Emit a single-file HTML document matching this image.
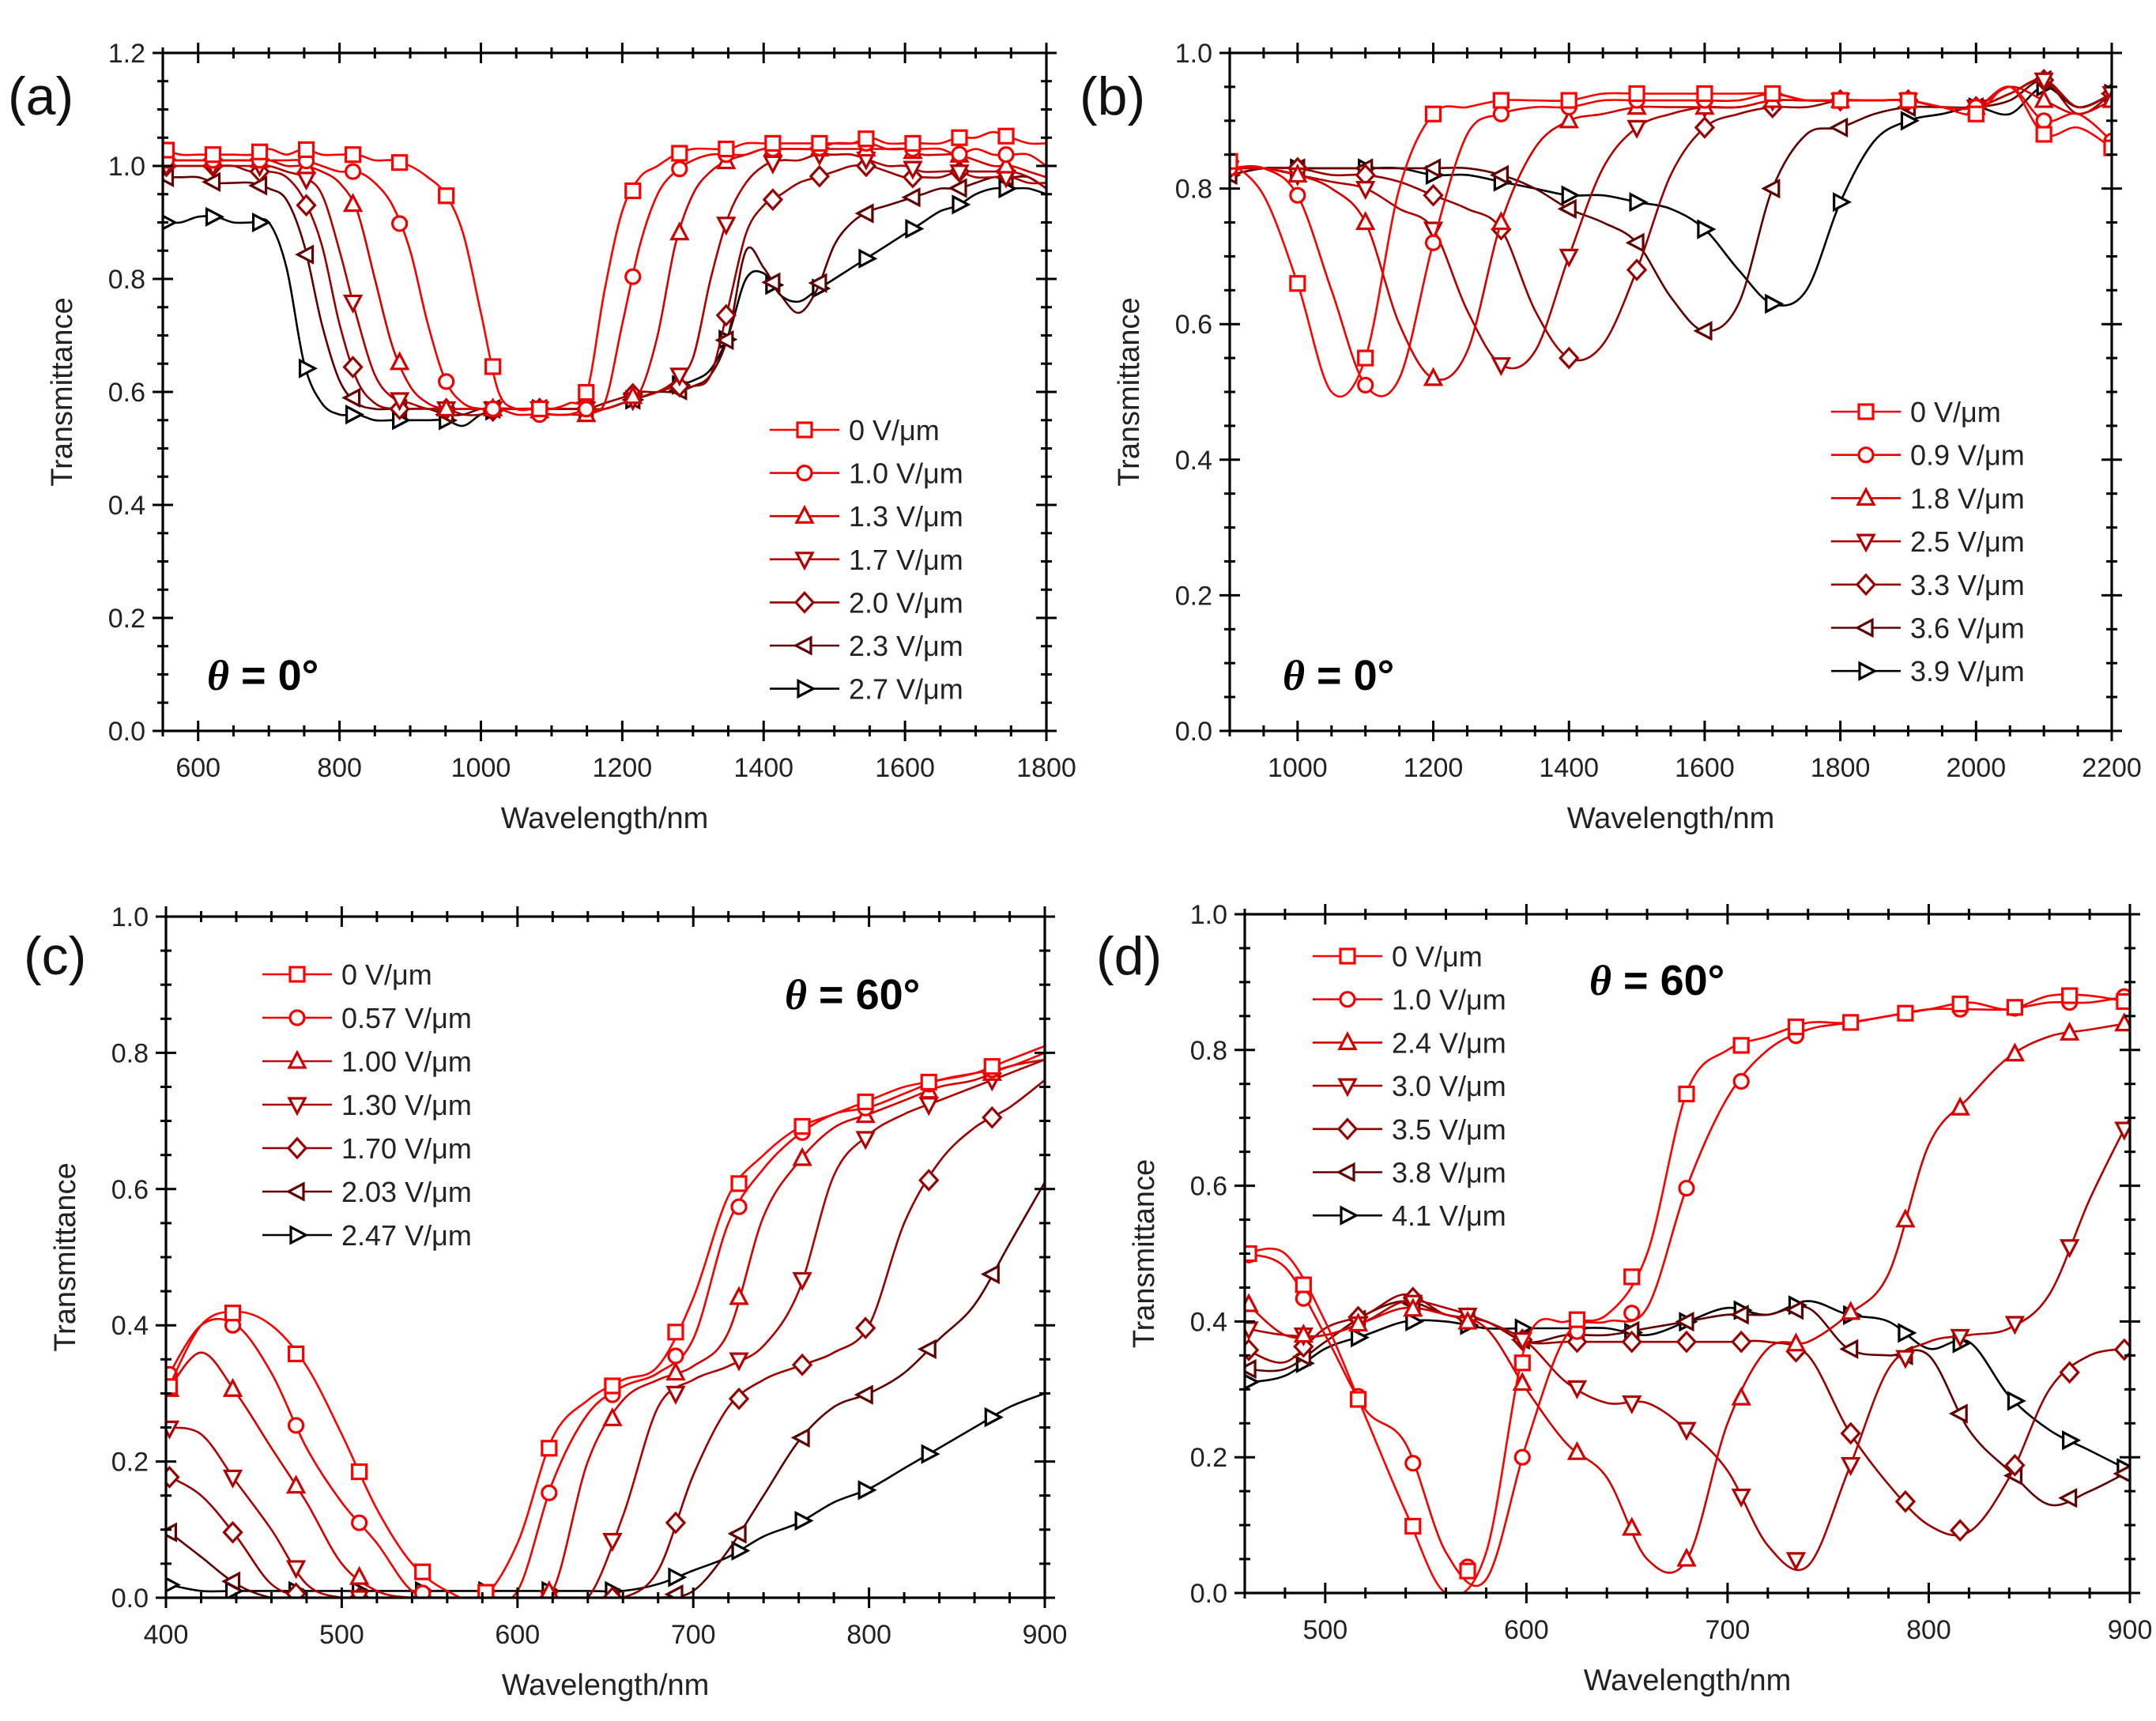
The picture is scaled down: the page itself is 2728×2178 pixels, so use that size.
<!DOCTYPE html>
<html><head><meta charset="utf-8">
<style>
html,body{margin:0;padding:0;background:#fff;}
svg{display:block;}
text{font-family:"Liberation Sans",Arial,sans-serif;}
</style></head>
<body>
<svg id="fig" width="2728" height="2178" viewBox="0 0 2728 2178" xmlns="http://www.w3.org/2000/svg"></svg>
<script>
// ---------- Panel (a) data ----------
const aWavelengths = [550,575,600,625,650,675,700,725,750,775,800,825,850,875,900,925,950,975,1000,1025,1050,1075,1100,1125,1150,1175,1200,1225,1250,1275,1300,1325,1350,1375,1400,1425,1450,1475,1500,1525,1550,1575,1600,1625,1650,1675,1700,1725,1750,1775,1800];
const aLabels = ["0 V/\u03bcm","1.0 V/\u03bcm","1.3 V/\u03bcm","1.7 V/\u03bcm","2.0 V/\u03bcm","2.3 V/\u03bcm","2.7 V/\u03bcm"];
const a0 = [1.03,1.02,1.02,1.02,1.02,1.02,1.03,1.02,1.03,1.02, 1.02,1.02,1.01,1.01,1.0,0.98,0.95,0.88,0.74,0.6, 0.57,0.57,0.57,0.58,0.6,0.78,0.92,0.98,1.0,1.02, 1.03,1.03,1.03,1.04,1.04,1.04,1.04,1.04,1.04,1.04, 1.05,1.04,1.04,1.04,1.04,1.05,1.05,1.06,1.05,1.04, 1.04];
const a1 = [1.01,1.01,1.01,1.01,1.01,1.01,1.01,1.01,1.01,1.0, 0.99,0.99,0.97,0.93,0.85,0.72,0.62,0.58,0.57,0.57, 0.56,0.56,0.56,0.56,0.57,0.58,0.72,0.86,0.95,0.99, 1.01,1.02,1.02,1.02,1.03,1.03,1.03,1.03,1.04,1.04, 1.04,1.03,1.03,1.03,1.03,1.02,1.03,1.02,1.02,1.02, 1.0];
const a2 = [1.01,1.01,1.01,1.01,1.01,1.01,1.01,1.0,1.0,0.99, 0.97,0.92,0.8,0.68,0.61,0.58,0.57,0.57,0.57,0.57, 0.57,0.57,0.56,0.56,0.56,0.57,0.58,0.6,0.7,0.86, 0.95,0.99,1.01,1.02,1.03,1.03,1.03,1.03,1.03,1.03, 1.03,1.03,1.03,1.02,1.02,1.02,1.01,1.0,1.0,0.99, 0.98];
const a3 = [1.0,1.0,1.0,1.0,1.0,1.0,1.0,0.99,0.98,0.95, 0.85,0.73,0.63,0.59,0.58,0.57,0.57,0.57,0.57,0.57, 0.57,0.57,0.57,0.57,0.57,0.57,0.58,0.59,0.6,0.62, 0.66,0.8,0.91,0.97,1.0,1.01,1.01,1.02,1.02,1.02, 1.01,1.0,1.0,0.99,0.99,0.99,0.98,0.98,0.98,0.97, 0.97];
const a4 = [1.0,1.0,1.0,1.0,1.0,0.99,0.99,0.98,0.94,0.86, 0.72,0.62,0.58,0.57,0.57,0.57,0.57,0.56,0.56,0.57, 0.57,0.57,0.57,0.57,0.57,0.58,0.59,0.6,0.6,0.61, 0.61,0.63,0.75,0.88,0.93,0.95,0.97,0.98,0.99,1.0, 1.0,0.99,0.98,0.98,0.98,0.99,0.99,0.99,0.99,0.98, 0.96];
const a5 = [0.98,0.98,0.98,0.97,0.97,0.97,0.96,0.94,0.86,0.72, 0.62,0.58,0.57,0.57,0.57,0.57,0.56,0.56,0.57,0.57, 0.57,0.57,0.57,0.57,0.57,0.57,0.58,0.59,0.6,0.6, 0.61,0.63,0.7,0.85,0.82,0.77,0.74,0.78,0.86,0.9, 0.92,0.93,0.94,0.95,0.96,0.96,0.97,0.98,0.98,0.98, 0.96];
const a6 = [0.9,0.9,0.91,0.91,0.9,0.9,0.9,0.82,0.65,0.58, 0.56,0.56,0.55,0.55,0.55,0.55,0.55,0.54,0.56,0.57, 0.57,0.57,0.57,0.57,0.57,0.57,0.58,0.59,0.6,0.61, 0.62,0.64,0.7,0.8,0.81,0.77,0.76,0.78,0.8,0.82, 0.84,0.86,0.88,0.9,0.92,0.93,0.95,0.96,0.96,0.96, 0.95];
const aXTicks = [600,800,1000,1200,1400,1600,1800];
const aYTicks = [0.0,0.2,0.4,0.6,0.8,1.0,1.2];

// ---------- Panel (b) data ----------
const bWavelengths = [900,950,1000,1050,1100,1150,1200,1250,1300,1350,1400,1450,1500,1550,1600,1650,1700,1750,1800,1850,1900,1950,2000,2050,2100,2150,2200];
const bLabels = ["0 V/\u03bcm","0.9 V/\u03bcm","1.8 V/\u03bcm","2.5 V/\u03bcm","3.3 V/\u03bcm","3.6 V/\u03bcm","3.9 V/\u03bcm"];
const b0 = [0.84,0.79,0.66,0.5,0.55,0.8,0.91,0.92,0.93,0.93, 0.93,0.94,0.94,0.94,0.94,0.94,0.94,0.93,0.93,0.93, 0.93,0.92,0.91,0.95,0.88,0.89,0.86];
const b1 = [0.83,0.83,0.79,0.65,0.51,0.52,0.72,0.88,0.91,0.92, 0.92,0.93,0.93,0.93,0.93,0.93,0.94,0.93,0.93,0.93, 0.93,0.92,0.92,0.95,0.9,0.91,0.87];
const b2 = [0.83,0.83,0.82,0.8,0.75,0.6,0.52,0.56,0.75,0.86, 0.9,0.91,0.92,0.92,0.92,0.92,0.93,0.93,0.93,0.93, 0.93,0.92,0.92,0.95,0.93,0.91,0.93];
const b3 = [0.83,0.83,0.82,0.81,0.8,0.77,0.74,0.62,0.54,0.56, 0.7,0.83,0.89,0.91,0.92,0.92,0.93,0.93,0.93,0.93, 0.93,0.92,0.92,0.94,0.96,0.92,0.94];
const b4 = [0.83,0.83,0.83,0.82,0.82,0.81,0.79,0.77,0.74,0.62, 0.55,0.57,0.68,0.82,0.89,0.91,0.92,0.92,0.93,0.93, 0.93,0.92,0.92,0.94,0.96,0.91,0.94];
const b5 = [0.82,0.83,0.83,0.83,0.83,0.83,0.83,0.83,0.82,0.8, 0.77,0.75,0.72,0.64,0.59,0.63,0.8,0.88,0.89,0.91, 0.92,0.92,0.92,0.93,0.96,0.92,0.94];
const b6 = [0.82,0.83,0.83,0.83,0.83,0.83,0.82,0.82,0.81,0.8, 0.79,0.79,0.78,0.77,0.74,0.68,0.63,0.65,0.78,0.87, 0.9,0.91,0.92,0.91,0.95,0.92,0.94];
const bXTicks = [1000,1200,1400,1600,1800,2000,2200];
const bYTicks = [0.0,0.2,0.4,0.6,0.8,1.0];

// ---------- Panel (c) data ----------
const cWavelengths = [400,420,440,460,480,500,520,540,560,580,600,620,640,660,680,700,720,740,760,780,800,820,840,860,880,900];
const cLabels = ["0 V/\u03bcm","0.57 V/\u03bcm","1.00 V/\u03bcm","1.30 V/\u03bcm","1.70 V/\u03bcm","2.03 V/\u03bcm","2.47 V/\u03bcm"];
const c0 = [0.3,0.4,0.42,0.4,0.34,0.24,0.13,0.05,0.01,0.0, 0.08,0.235,0.29,0.32,0.34,0.44,0.59,0.65,0.69,0.71, 0.73,0.75,0.76,0.77,0.79,0.81];
const c1 = [0.32,0.4,0.4,0.33,0.22,0.14,0.08,0.01,0.0,0.0, 0.01,0.17,0.27,0.31,0.33,0.38,0.55,0.63,0.68,0.71, 0.72,0.74,0.76,0.77,0.78,0.8];
const c2 = [0.3,0.36,0.3,0.22,0.14,0.05,0.01,0.0,0.0,0.0, 0.0,0.01,0.2,0.29,0.32,0.34,0.39,0.56,0.64,0.69, 0.71,0.73,0.75,0.76,0.78,0.79];
const c3 = [0.25,0.24,0.17,0.1,0.02,0.0,0.0,0.0,0.0,0.0, 0.0,0.0,0.0,0.12,0.28,0.32,0.34,0.37,0.45,0.62, 0.68,0.71,0.73,0.75,0.77,0.79];
const c4 = [0.18,0.15,0.09,0.02,0.0,0.0,0.0,0.0,0.0,0.0, 0.0,0.0,0.0,0.0,0.04,0.18,0.28,0.32,0.34,0.36, 0.4,0.55,0.64,0.69,0.72,0.76];
const c5 = [0.1,0.06,0.02,0.0,0.0,0.0,0.0,0.0,0.0,0.0, 0.0,0.0,0.0,0.0,0.0,0.01,0.07,0.15,0.23,0.28, 0.3,0.33,0.38,0.43,0.52,0.61];
const c6 = [0.02,0.01,0.01,0.01,0.01,0.01,0.01,0.01,0.01,0.01, 0.01,0.01,0.01,0.01,0.02,0.04,0.06,0.09,0.11,0.14, 0.16,0.19,0.22,0.25,0.28,0.3];
const cXTicks = [400,500,600,700,800,900];
const cYTicks = [0.0,0.2,0.4,0.6,0.8,1.0];

// ---------- Panel (d) data ----------
const dWavelengths = [460,480,500,520,540,560,580,600,620,640,660,680,700,720,740,760,780,800,820,840,860,880,900];
const dLabels = ["0 V/\u03bcm","1.0 V/\u03bcm","2.4 V/\u03bcm","3.0 V/\u03bcm","3.5 V/\u03bcm","3.8 V/\u03bcm","4.1 V/\u03bcm"];
const d0 = [0.5,0.5,0.4,0.26,0.12,0.0,0.06,0.37,0.4,0.41, 0.5,0.74,0.8,0.82,0.84,0.84,0.85,0.86,0.87,0.86, 0.88,0.88,0.87];
const d1 = [0.5,0.48,0.38,0.27,0.22,0.06,0.02,0.22,0.38,0.4, 0.42,0.6,0.73,0.8,0.83,0.84,0.85,0.86,0.86,0.86, 0.87,0.87,0.88];
const d2 = [0.43,0.38,0.38,0.4,0.42,0.41,0.39,0.3,0.22,0.17, 0.05,0.05,0.25,0.36,0.37,0.41,0.47,0.66,0.73,0.79, 0.82,0.83,0.84];
const d3 = [0.39,0.38,0.38,0.4,0.43,0.42,0.4,0.37,0.31,0.28, 0.28,0.24,0.18,0.07,0.04,0.18,0.33,0.37,0.38,0.39, 0.44,0.58,0.7];
const d4 = [0.36,0.34,0.39,0.41,0.44,0.41,0.4,0.37,0.37,0.37, 0.37,0.37,0.37,0.37,0.35,0.24,0.16,0.1,0.09,0.17, 0.3,0.35,0.36];
const d5 = [0.33,0.33,0.37,0.41,0.43,0.41,0.4,0.37,0.38,0.38, 0.39,0.4,0.41,0.41,0.42,0.36,0.35,0.35,0.24,0.18, 0.13,0.15,0.18];
const d6 = [0.31,0.32,0.36,0.38,0.4,0.4,0.39,0.39,0.39,0.39, 0.38,0.4,0.42,0.41,0.43,0.41,0.4,0.36,0.37,0.29, 0.24,0.21,0.18];
const dXTicks = [500,600,700,800,900];
const dYTicks = [0.0,0.2,0.4,0.6,0.8,1.0];

const seriesColors = ["#ff0000","#f20000","#d40000","#b00000","#980000","#600000","#000000"];
const markerShapes = ["square","circle","up","down","diamond","left","right"];

const NS = "http://www.w3.org/2000/svg";
const svg = document.getElementById("fig");
function mk(tag, attrs, parent){
  const e = document.createElementNS(NS, tag);
  for (const k in attrs) e.setAttribute(k, attrs[k]);
  (parent||svg).appendChild(e);
  return e;
}
function interp(xs, ys, x){
  if (x <= xs[0]) return ys[0];
  for (let i=1;i<xs.length;i++){
    if (x <= xs[i]){ const t=(x-xs[i-1])/(xs[i]-xs[i-1]); return ys[i-1]+t*(ys[i]-ys[i-1]); }
  }
  return ys[ys.length-1];
}
function smoothPath(pts){
  let d = "M"+pts[0][0].toFixed(1)+","+pts[0][1].toFixed(1);
  for (let i=0;i<pts.length-1;i++){
    const p0=pts[Math.max(0,i-1)], p1=pts[i], p2=pts[i+1], p3=pts[Math.min(pts.length-1,i+2)];
    const c1x=p1[0]+(p2[0]-p0[0])/6, c1y=p1[1]+(p2[1]-p0[1])/6;
    const c2x=p2[0]-(p3[0]-p1[0])/6, c2y=p2[1]-(p3[1]-p1[1])/6;
    d += " C"+c1x.toFixed(1)+","+c1y.toFixed(1)+" "+c2x.toFixed(1)+","+c2y.toFixed(1)+" "+p2[0].toFixed(1)+","+p2[1].toFixed(1);
  }
  return d;
}
function marker(g, shape, x, y, color){
  const r = 10, sw = 3.2;
  let el;
  if (shape==="square") el = mk("rect",{x:x-r+1,y:y-r+1,width:2*r-2,height:2*r-2},g);
  else if (shape==="circle") el = mk("circle",{cx:x,cy:y,r:r-1},g);
  else {
    let p;
    if (shape==="up") p=[[x,y-r-1],[x+r,y+r-2],[x-r,y+r-2]];
    else if (shape==="down") p=[[x,y+r+1],[x+r,y-r+2],[x-r,y-r+2]];
    else if (shape==="diamond") p=[[x,y-r-2],[x+r+1,y],[x,y+r+2],[x-r-1,y]];
    else if (shape==="left") p=[[x-r-1,y],[x+r-2,y-r],[x+r-2,y+r]];
    else p=[[x+r+1,y],[x-r+2,y-r],[x-r+2,y+r]];
    el = mk("polygon",{points:p.map(q=>q.join(",")).join(" ")},g);
  }
  el.setAttribute("fill","#fff");
  el.setAttribute("stroke",color);
  el.setAttribute("stroke-width",sw);
  
  
  return el;
}

function drawPanel(P){
  const g = mk("g",{});
  
  
  const sx = v => P.L + (v-P.xmin)/(P.xmax-P.xmin)*(P.R-P.L);
  const sy = v => P.B - (v-P.ymin)/(P.ymax-P.ymin)*(P.B-P.T);
  const clipId = "clip-"+P.id;
  const defs = mk("defs",{},g);
  const cp = mk("clipPath",{id:clipId},defs);
  mk("rect",{x:P.L,y:P.T,width:P.R-P.L,height:P.B-P.T},cp);

  // series
  const sg = mk("g",{"clip-path":"url(#"+clipId+")"},g);
  
  
  for (let s=P.series.length-1;s>=0;s--){
    const ys = P.series[s];
    const pts = P.wl.map((w,i)=>[sx(w),sy(ys[i])]);
    const path = mk("path",{d:smoothPath(pts),fill:"none",stroke:seriesColors[s],"stroke-width":2.6,"stroke-linejoin":"round"},sg);
    
    
    const mg = mk("g",{},sg);
    
    
    for (let w=P.mStart; w<=P.xmax+0.1; w+=P.mStep){
      marker(mg, markerShapes[s], sx(w), sy(interp(P.wl, ys, w)), seriesColors[s]);
    }
  }

  // axes frame
  const frame = mk("rect",{x:P.L,y:P.T,width:P.R-P.L,height:P.B-P.T,fill:"none",stroke:"#000","stroke-width":3.2},g);
  
  

  const tg = mk("g",{stroke:"#000","stroke-width":3},g);
  
  
  const M=13, m=7;
  for (let v=P.xmin; v<=P.xmax+1e-6; v+=P.xMinor){
    const isMajor = P.xTicks.some(t=>Math.abs(t-v)<1e-6);
    const l = isMajor?M:m, x=sx(v);
    mk("line",{x1:x,y1:P.B-l,x2:x,y2:P.B+l},tg);
    mk("line",{x1:x,y1:P.T-l,x2:x,y2:P.T+l},tg);
  }
  for (let v=P.ymin; v<=P.ymax+1e-6; v+=P.yMinor){
    const isMajor = P.yTicks.some(t=>Math.abs(t-v)<1e-6);
    const l = isMajor?M:m, y=sy(v);
    mk("line",{x1:P.L-l,y1:y,x2:P.L+l,y2:y},tg);
    mk("line",{x1:P.R-l,y1:y,x2:P.R+l,y2:y},tg);
  }
  // tick labels
  P.xTicks.forEach(t=>{
    const e = mk("text",{x:sx(t),y:P.B+58,"text-anchor":"middle","font-size":34,fill:"#222"},g);
    e.textContent = String(t);
    
    
  });
  P.yTicks.forEach(t=>{
    const e = mk("text",{x:P.L-22,y:sy(t)+12,"text-anchor":"end","font-size":34,fill:"#222"},g);
    e.textContent = t.toFixed(1);
    
    
  });
  // axis titles
  const xt = mk("text",{x:(P.L+P.R)/2,y:P.B+123,"text-anchor":"middle","font-size":38,fill:"#222"},g);
  xt.textContent = "Wavelength/nm";
  
  
  const yx = P.L-115, yc=(P.T+P.B)/2;
  const yt = mk("text",{x:yx,y:yc,"text-anchor":"middle","font-size":38,fill:"#222",transform:"rotate(-90 "+yx+" "+yc+")"},g);
  yt.textContent = "Transmittance";
  
  
  // panel letter
  const pl = mk("text",{x:P.letterX,y:P.letterY,"font-size":68,fill:"#111"},g);
  pl.textContent = "("+P.id+")";
  
  
  // theta
  const th = mk("text",{x:P.thX,y:P.thY,"font-size":54,"font-weight":"bold",fill:"#000"},g);
  
  
  const ts1 = mk("tspan",{"font-style":"italic","font-family":"Liberation Serif, serif"},th);
  ts1.textContent = "\u03b8";
  const ts2 = mk("tspan",{},th);
  ts2.textContent = " = "+P.theta+"\u00b0";
  // legend
  const lg = mk("g",{},g);
  
  
  P.labels.forEach((lab,i)=>{
    const y = P.legY + i*P.legDy;
    const eg = mk("g",{},lg);
    
    
    mk("line",{x1:P.legX,y1:y,x2:P.legX+88,y2:y,stroke:seriesColors[i],"stroke-width":2.6},eg);
    marker(eg, markerShapes[i], P.legX+44, y, seriesColors[i]);
    const t = mk("text",{x:P.legX+100,y:y+13,"font-size":36,fill:"#222"},eg);
    t.textContent = lab;
  });
}

drawPanel({id:"a",L:206,R:1324,T:67,B:925,xmin:550,xmax:1800,ymin:0,ymax:1.2,xMinor:50,yMinor:0.05,
  xTicks:aXTicks,yTicks:aYTicks,wl:aWavelengths,series:[a0,a1,a2,a3,a4,a5,a6],labels:aLabels,
  mStart:555,mStep:66,legX:974,legY:544,legDy:54.6,letterX:10,letterY:145,thX:262,thY:873,theta:0});
drawPanel({id:"b",L:1556,R:2672,T:67,B:925,xmin:900,xmax:2200,ymin:0,ymax:1.0,xMinor:50,yMinor:0.05,
  xTicks:bXTicks,yTicks:bYTicks,wl:bWavelengths,series:[b0,b1,b2,b3,b4,b5,b6],labels:bLabels,
  mStart:900,mStep:100,legX:2317,legY:521,legDy:54.7,letterX:1366,letterY:145,thX:1623,thY:873,theta:0});
drawPanel({id:"c",L:210,R:1322,T:1160,B:2022,xmin:400,xmax:900,ymin:0,ymax:1.0,xMinor:20,yMinor:0.05,
  xTicks:cXTicks,yTicks:cYTicks,wl:cWavelengths,series:[c0,c1,c2,c3,c4,c5,c6],labels:cLabels,
  mStart:402,mStep:36,legX:332,legY:1233,legDy:55,letterX:30,letterY:1233,thX:993,thY:1277,theta:60});
drawPanel({id:"d",L:1575,R:2695,T:1157,B:2016,xmin:460,xmax:900,ymin:0,ymax:1.0,xMinor:20,yMinor:0.05,
  xTicks:dXTicks,yTicks:dYTicks,wl:dWavelengths,series:[d0,d1,d2,d3,d4,d5,d6],labels:dLabels,
  mStart:462,mStep:27.2,legX:1661,legY:1210,legDy:54.7,letterX:1387,letterY:1233,thX:2011,thY:1259,theta:60});
</script>
</body></html>
